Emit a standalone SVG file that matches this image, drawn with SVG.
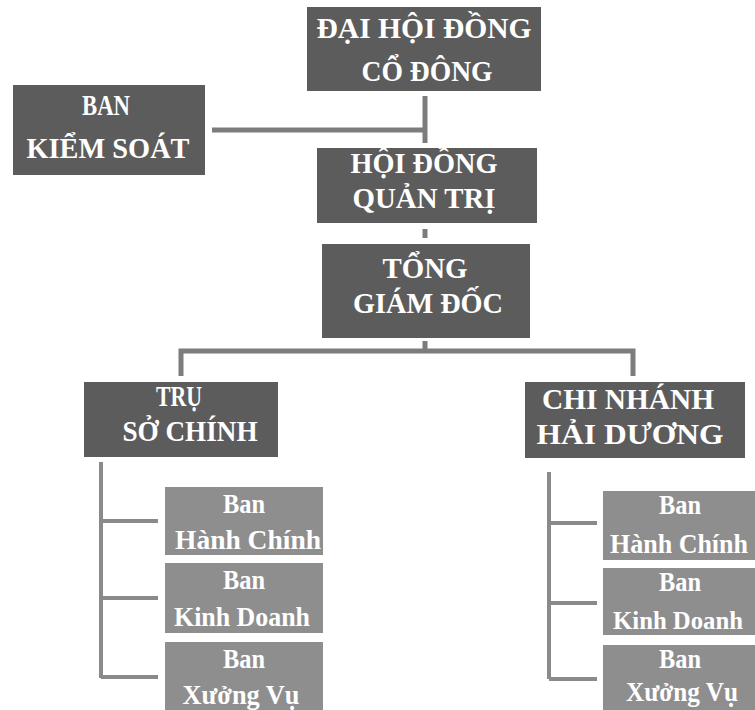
<svg xmlns="http://www.w3.org/2000/svg" width="755" height="710" viewBox="0 0 755 710">
<style>
.bg{fill:#ffffff}
.dark{fill:#5c5c5c}
.light{fill:#8e8e8e}
.t{font-family:"Liberation Serif","Times New Roman",serif;font-weight:bold;fill:#ffffff;text-anchor:middle}
.big{font-size:30px}
.small{font-size:27px}
.ln{stroke:#7c7c7c;stroke-width:5;fill:none}
.sl{stroke:#8a8a8a;stroke-width:4;fill:none}
</style>
<rect class="bg" x="0" y="0" width="755" height="710"/>
<g id="connectors">
<path class="ln" d="M425 96 V143"/>
<path class="ln" d="M212 130 H425"/>
<path class="ln" d="M425 229 V238"/>
<path class="ln" d="M425 341 V351 M181 376 V351 H633 V376"/>
<path class="sl" d="M101 462 V678 M101 521 H158 M101 598 H158 M101 677 H158"/>
<path class="sl" d="M549 472 V679 M549 523 H597 M549 603 H597 M549 679 H597"/>
</g>
<g id="dhdcd">
<rect class="dark" x="307" y="7" width="234" height="84"/>
<text class="t big" x="424" y="38" textLength="215" lengthAdjust="spacingAndGlyphs">ĐẠI HỘI ĐỒNG</text>
<text class="t big" x="427" y="81" textLength="131" lengthAdjust="spacingAndGlyphs">CỔ ĐÔNG</text>
</g>
<g id="bks">
<rect class="dark" x="13" y="85" width="192" height="90"/>
<text class="t big" x="106" y="115" textLength="48" lengthAdjust="spacingAndGlyphs">BAN</text>
<text class="t big" x="108" y="158" textLength="163" lengthAdjust="spacingAndGlyphs">KIỂM SOÁT</text>
</g>
<g id="hdqt">
<rect class="dark" x="317" y="148" width="220" height="75"/>
<text class="t big" x="424" y="173" textLength="147" lengthAdjust="spacingAndGlyphs">HỘI ĐỒNG</text>
<text class="t big" x="424" y="208" textLength="143" lengthAdjust="spacingAndGlyphs">QUẢN TRỊ</text>
</g>
<g id="tgd">
<rect class="dark" x="322" y="244" width="208" height="94"/>
<text class="t big" x="425" y="278" textLength="85" lengthAdjust="spacingAndGlyphs">TỔNG</text>
<text class="t big" x="428" y="313" textLength="150" lengthAdjust="spacingAndGlyphs">GIÁM ĐỐC</text>
</g>
<g id="tsc">
<rect class="dark" x="84" y="382" width="194" height="75"/>
<text class="t big" x="179" y="406" textLength="46" lengthAdjust="spacingAndGlyphs">TRỤ</text>
<text class="t big" x="190" y="441" textLength="135" lengthAdjust="spacingAndGlyphs">SỞ CHÍNH</text>
</g>
<g id="cnhd">
<rect class="dark" x="525" y="382" width="220" height="76"/>
<text class="t big" x="628" y="409" textLength="172" lengthAdjust="spacingAndGlyphs">CHI NHÁNH</text>
<text class="t big" x="630" y="444" textLength="187" lengthAdjust="spacingAndGlyphs">HẢI DƯƠNG</text>
</g>
<g id="l-hc">
<rect class="light" x="165" y="487" width="158" height="68"/>
<text class="t small" x="244" y="513" textLength="42" lengthAdjust="spacingAndGlyphs">Ban</text>
<text class="t small" x="248" y="549" textLength="146" lengthAdjust="spacingAndGlyphs">Hành Chính</text>
</g>
<g id="l-kd">
<rect class="light" x="165" y="563" width="158" height="70"/>
<text class="t small" x="244" y="589" textLength="42" lengthAdjust="spacingAndGlyphs">Ban</text>
<text class="t small" x="242" y="626" textLength="136" lengthAdjust="spacingAndGlyphs">Kinh Doanh</text>
</g>
<g id="l-xv">
<rect class="light" x="165" y="642" width="158" height="68"/>
<text class="t small" x="244" y="668" textLength="42" lengthAdjust="spacingAndGlyphs">Ban</text>
<text class="t small" x="241" y="704" textLength="117" lengthAdjust="spacingAndGlyphs">Xưởng Vụ</text>
</g>
<g id="r-hc">
<rect class="light" x="603" y="491" width="152" height="69"/>
<text class="t small" x="680" y="514" textLength="42" lengthAdjust="spacingAndGlyphs">Ban</text>
<text class="t small" x="679" y="553" textLength="138" lengthAdjust="spacingAndGlyphs">Hành Chính</text>
</g>
<g id="r-kd">
<rect class="light" x="603" y="568" width="152" height="67"/>
<text class="t small" x="680" y="591" textLength="42" lengthAdjust="spacingAndGlyphs">Ban</text>
<text class="t" style="font-size:25px" x="678" y="629" textLength="130" lengthAdjust="spacingAndGlyphs">Kinh Doanh</text>
</g>
<g id="r-xv">
<rect class="light" x="603" y="645" width="152" height="65"/>
<text class="t small" x="680" y="668" textLength="42" lengthAdjust="spacingAndGlyphs">Ban</text>
<text class="t small" x="682" y="701" textLength="112" lengthAdjust="spacingAndGlyphs">Xưởng Vụ</text>
</g>
</svg>
